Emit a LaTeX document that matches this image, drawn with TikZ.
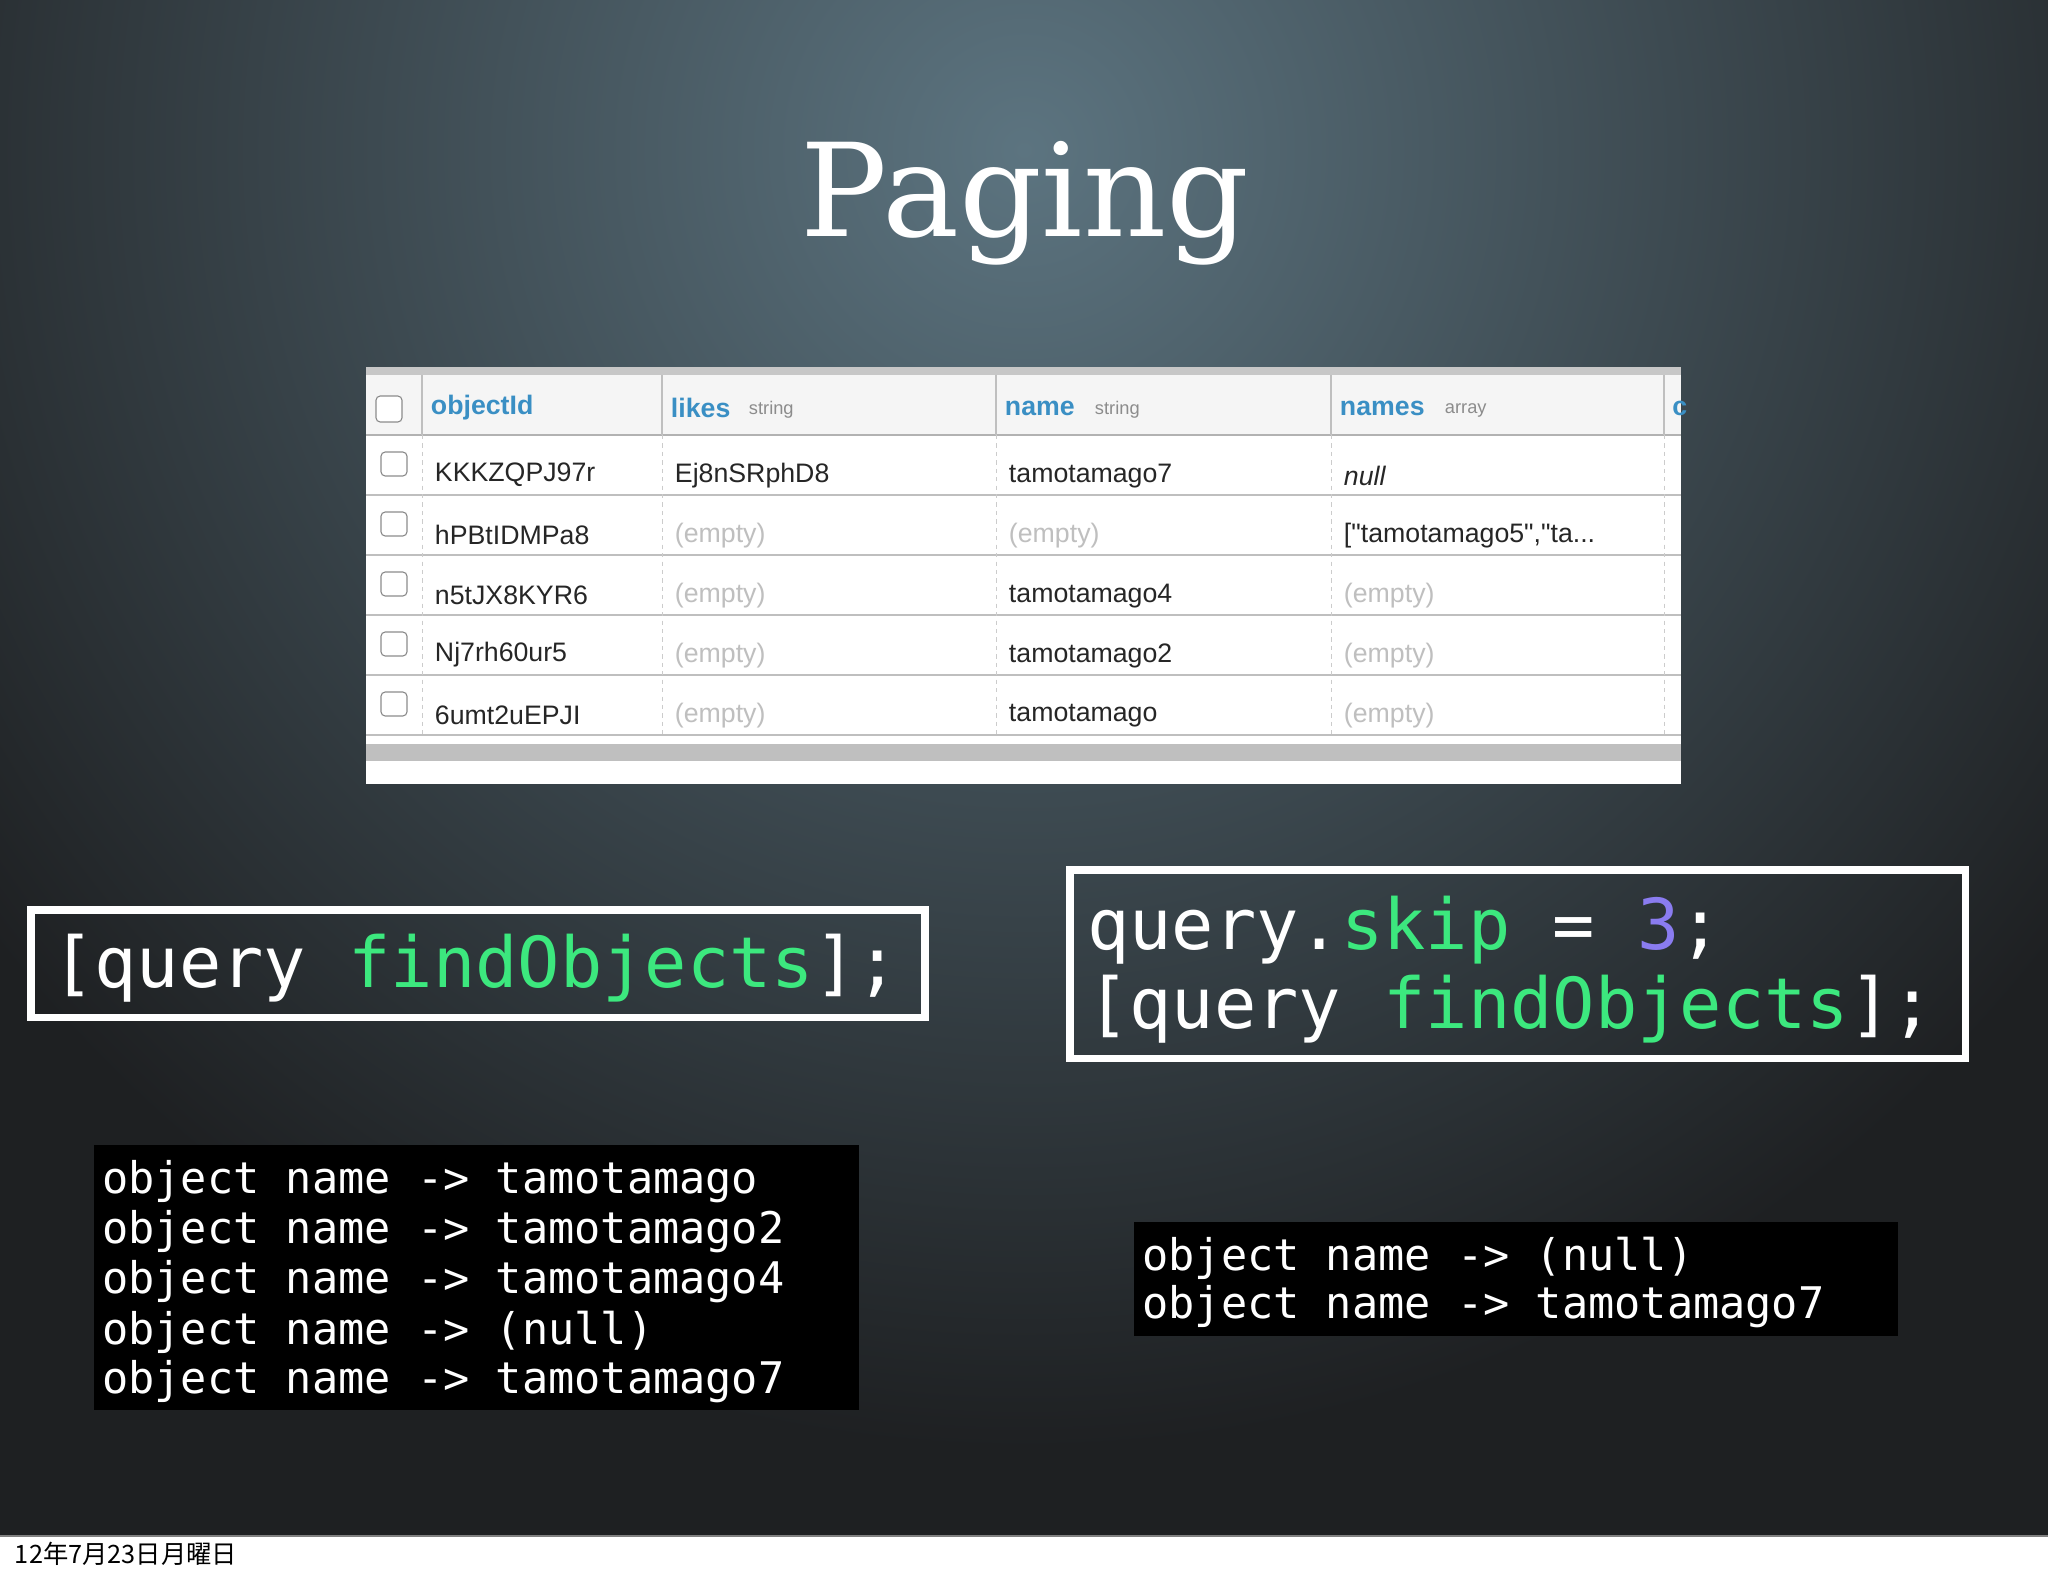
\documentclass[tikz,border=0pt]{standalone}
\usepackage{fontspec}
\setmainfont{Liberation Sans}
\newfontfamily\monof{DejaVu Sans Mono}
\newfontfamily\titlef{DejaVu Serif}
\newfontfamily\cjk{Noto Sans CJK JP}
\definecolor{codegreen}{HTML}{3CE87E}
\definecolor{codeblue}{HTML}{8A7CF0}
\definecolor{hdrblue}{HTML}{3A8FC4}
\definecolor{bgin}{HTML}{5C7480}
\definecolor{bgout}{HTML}{1E2022}
\tikzset{
  cell/.style={anchor=west,font=\fontsize{19}{19}\selectfont,text=black!85},
  emptycell/.style={cell,text=black!25},
  hdr/.style={anchor=west,font=\fontsize{19}{19}\selectfont\bfseries,text=hdrblue},
  typ/.style={anchor=west,font=\fontsize{13}{13}\selectfont,text=black!45},
  chk/.style={draw=black!45,fill=white,rounded corners=3pt,line width=0.8pt},
  codebox/.style={draw=white,line width=5pt},
  code/.style={anchor=west,font=\fontsize{50}{50}\selectfont\monof,text=white,inner sep=0pt},
  outtxt/.style={anchor=west,font=\fontsize{31}{31}\selectfont\monof,text=white,inner sep=0pt}
}
\begin{document}
\begin{tikzpicture}[x=0.25mm,y=-0.25mm]
\useasboundingbox (0,0) rectangle (2048,1576);
\fill[white] (0,0) rectangle (2048,1576);
\begin{scope}
\clip (0,0) rectangle (2048,1536);
\fill[bgout] (0,0) rectangle (2048,1536);
\shade[inner color=bgin,outer color=bgout] (1024,150) ellipse [x radius=1300,y radius=1300];
\end{scope}
\draw[black!50,line width=1pt] (0,1536) -- (2048,1536);
\node[text=black,anchor=west,font=\fontsize{18}{18}\selectfont\cjk] (date) at (10,1554) {12年7月23日月曜日};
% title
\node[text=white,font=\fontsize{92}{92}\selectfont\titlef] (title) at (1025,203) {Paging};
% table
\fill[white] (366,367) rectangle (1681,784);
\fill[black!22] (366,367) rectangle (1681,375);
\fill[black!4] (366,375) rectangle (1681,435);
\draw[black!30,line width=2pt] (366,435) -- (1681,435);
\foreach \yy in {495,555,615,675,735} \draw[black!25,line width=2pt] (366,\yy) -- (1681,\yy);
\fill[black!25] (366,744) rectangle (1681,761);
\foreach \xx in {422,662,996,1331,1664} {
  \draw[black!25,line width=1pt] (\xx,375) -- (\xx,435);
  \draw[black!20,dashed,line width=0.6pt] (\xx,435) -- (\xx,735);
}
\node[hdr] (h1) at (426,408) {objectId};
\node[hdr] (h2) at (666,408) {likes}; \node[typ] (t2) at (744,410) {string};
\node[hdr] (h3) at (1000,408) {name}; \node[typ] (t3) at (1090,410) {string};
\node[hdr] (h4) at (1335,408) {names}; \node[typ] (t4) at (1440,410) {array};
\node[hdr,inner sep=0pt] (h5) at (1672,408) {c};
\draw[chk] (376,396) rectangle (402,422);
\foreach \yy/\a [count=\i] in {466/KKKZQPJ97r,526/hPBtIDMPa8,586/n5tJX8KYR6,646/Nj7rh60ur5,706/6umt2uEPJI} {
  \draw[chk] (381,\yy-14) rectangle (407,\yy+10);
  \node[cell] (c\i) at (430,\yy+9) {\a};
}
\node[cell] (b1) at (670,476) {Ej8nSRphD8};
\foreach \yy in {536,596,656,716} \node[emptycell] at (670,\yy) {(empty)};
\node[cell] (n1) at (1004,476) {tamotamago7};
\node[emptycell] (n2) at (1004,536) {(empty)};
\node[cell] (n3) at (1004,596) {tamotamago4};
\node[cell] (n4) at (1004,656) {tamotamago2};
\node[cell] (n5) at (1004,716) {tamotamago};
\node[cell,font=\fontsize{19}{19}\selectfont\itshape] (m1) at (1339,476) {null};
\node[cell] (m2) at (1339,536) {[\textquotedbl tamotamago5\textquotedbl,\textquotedbl ta...};
\foreach \yy in {596,656,716} \node[emptycell] at (1339,\yy) {(empty)};
% code boxes
\draw[codebox] (31,910) rectangle (925,1017);
\node[code] (q1) at (52,968) {[query \textcolor{codegreen}{findObjects}];};
\draw[codebox] (1070,870) rectangle (1965,1058);
\node[code] (q2) at (1087,930) {query.\textcolor{codegreen}{skip} = \textcolor{codeblue}{3};};
\node[code] (q3) at (1087,1009) {[query \textcolor{codegreen}{findObjects}];};
% outputs
\fill[black] (94,1145) rectangle (859,1410);
\foreach \yy/\txt in {1178/tamotamago,1228/tamotamago2,1278/tamotamago4,1328/(null),1378/tamotamago7}
  \node[outtxt] at (102,\yy+4) {object name -> \txt};
\fill[black] (1134,1222) rectangle (1898,1336);
\node[outtxt] (o1) at (1142,1258) {object name -> (null)};
\node[outtxt] (o2) at (1142,1307) {object name -> tamotamago7};
\end{tikzpicture}
\end{document}
